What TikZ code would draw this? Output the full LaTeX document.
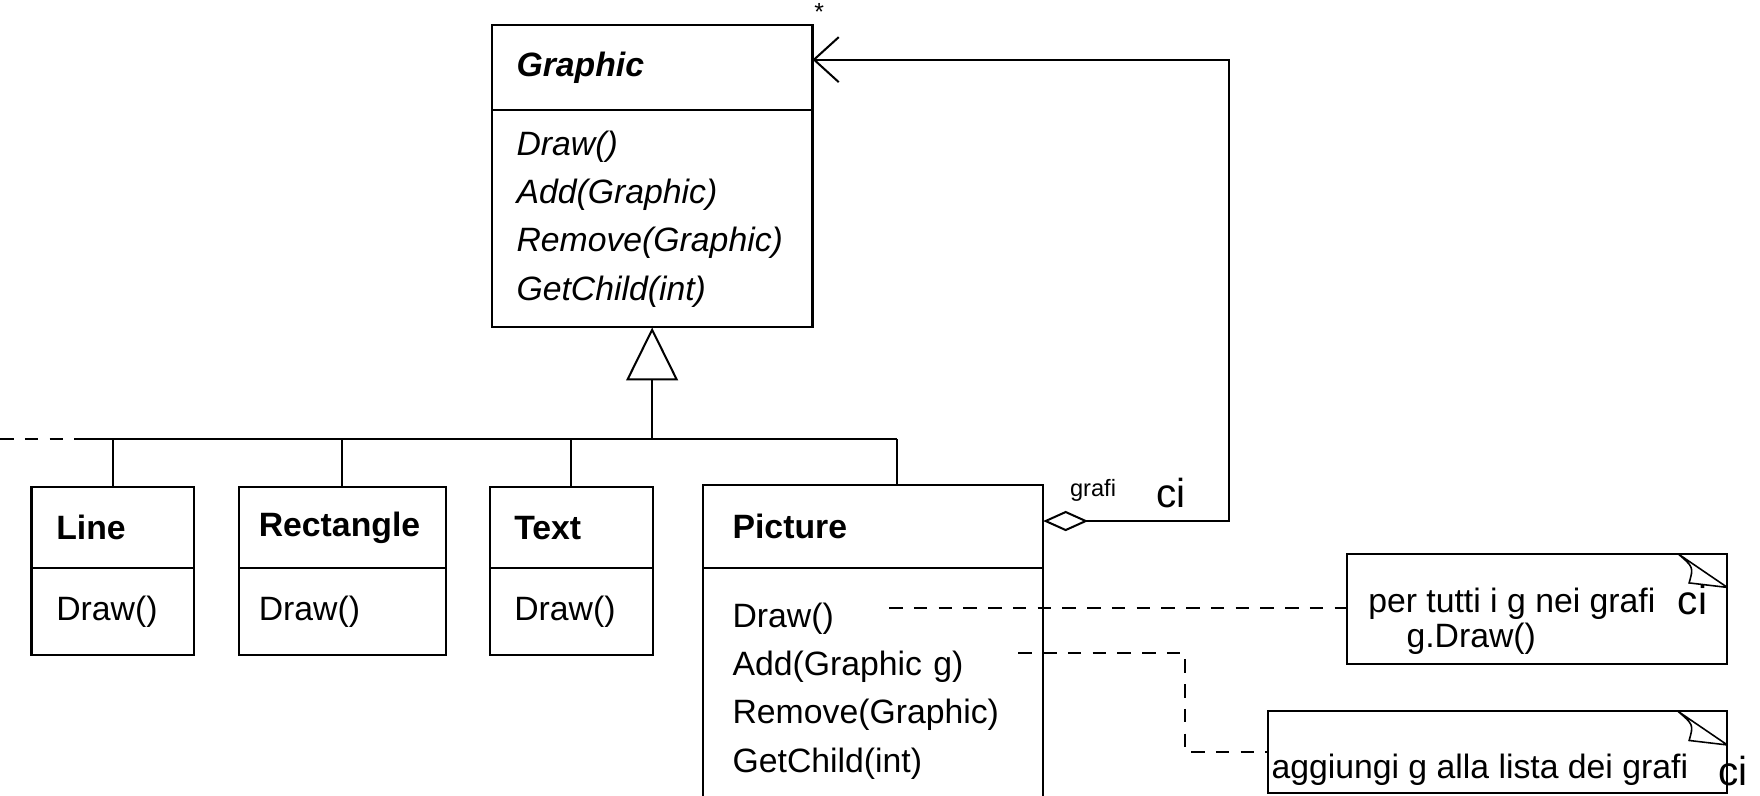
\documentclass[tikz,border=0pt]{standalone}
\usepackage{fontspec}
\setmainfont{Liberation Sans}
\usetikzlibrary{positioning, arrows.meta}

\newcommand{\notefold}[1]{%
\draw[line width=0.7pt] ([xshift=-22pt]#1.north east) -- ([yshift=-15pt]#1.north east)
([xshift=-22pt]#1.north east) .. controls ([xshift=-15pt,yshift=-6pt]#1.north east) .. ([xshift=-17pt,yshift=-13pt]#1.north east) -- ([yshift=-15pt]#1.north east);}

\begin{document}
\begin{tikzpicture}[x=0.5pt, y=-0.5pt, node distance=20pt, line width=0.9pt,
font=\fontsize{15}{21.5}\selectfont,
classhead/.style={draw, text width=#1, inner xsep=11pt, inner ysep=0pt, outer sep=0pt, minimum height=36pt, align=left, font=\fontsize{15}{21.5}\selectfont\bfseries},
classbody/.style={draw, text width=#1, inner xsep=11pt, inner ysep=0pt, outer sep=0pt, minimum height=38.5pt, align=left},
notebox/.style={draw, inner sep=0pt, outer sep=0pt},
notetext/.style={inner sep=0pt, align=left, font=\fontsize{15}{15.5}\selectfont},
cilabel/.style={inner sep=0pt, font=\fontsize{18}{18}\selectfont},
notelink/.style={line width=0.8pt, dash pattern=on 6pt off 5pt}]
\useasboundingbox (0,0) rectangle (1564,707);
\clip (0,0) rectangle (1564,707);

\node[classhead=120.5pt, minimum height=38pt, font=\fontsize{15}{21.5}\selectfont\bfseries\itshape, anchor=north west] (graphic) at (437,22) {Graphic};
\node[classbody=120.5pt, minimum height=96.5pt, below=0pt of graphic, font=\fontsize{15}{21.5}\selectfont\itshape] (graphicops) {Draw()\\Add(Graphic)\\Remove(Graphic)\\GetChild(int)};

\node[classhead=50pt, anchor=north west] (line) at (28,433) {Line};
\node[classbody=50pt, below=0pt of line] (lineops) {Draw()};
\node[classhead=74pt, inner xsep=9pt, right=20pt of line.north east, anchor=north west] (rect) {Rectangle};
\node[classbody=74pt, inner xsep=9pt, below=0pt of rect] (rectops) {Draw()};
\node[classhead=50.5pt, right=19.5pt of rect.north east, anchor=north west] (textcls) {Text};
\node[classbody=50.5pt, below=0pt of textcls] (textops) {Draw()};
\node[classhead=125pt, inner xsep=13pt, minimum height=37pt, right=22.5pt of textcls.north east, anchor=north west, yshift=1pt] (picture) {Picture};
\node[classbody=125pt, inner xsep=13pt, minimum height=109pt, below=0pt of picture] (pictureops) {Draw()\\Add(Graphic g)\\Remove(Graphic)\\GetChild(int)};

\coordinate (busleft) at (0,390);
\coordinate (busdash) at (67,390);
\coordinate (bus) at (graphicops.south |- busleft);
\coordinate (busright) at (797,390);
\draw[notelink] (busleft) -- (busdash);
\draw (busdash) -- (busright);
\draw[-{Triangle[open, length=23.5pt, width=23pt]}] (bus) -- (graphicops.south);
\foreach \c in {line, rect, textcls} \draw (\c.north |- bus) -- (\c.north);
\draw (busright) -- (busright |- picture.north);

\coordinate (aggcorner) at (1092,53);
\draw[{Diamond[open, length=20pt, width=9pt]}-{Straight Barb[length=11pt, width=20pt]}] ([yshift=2.5pt]picture.east) -| (aggcorner) -- ([yshift=3.5pt]graphic.east);
\node[font=\fontsize{11}{11}\selectfont, inner sep=0pt] (mult) at (728,11) {*};
\node[font=\fontsize{10.5}{10.5}\selectfont, inner sep=0pt, anchor=base west] (grafi) at (950,441) {grafi};
\node[cilabel, anchor=base west] (grafici) at (1027,451) {ci};

\node[notebox, minimum width=169pt, minimum height=49pt, anchor=north west] (note1) at (1197,492) {};
\notefold{note1}
\node[notetext, anchor=west] (note1text) at (1215,552) {per tutti i g nei grafi\\\hspace*{17pt}g.Draw()};
\node[cilabel, anchor=base west] (note1ci) at (1490,546) {ci};

\node[notebox, minimum width=204pt, minimum height=36.5pt, anchor=north west] (note2) at (1127,632) {};
\notefold{note2}
\node[notetext, anchor=base west] (note2text) at (1129,692) {aggiungi g alla lista dei grafi};
\node[cilabel, anchor=base west] (note2ci) at (1526,698) {ci};

\coordinate (drawref) at (790,540);
\coordinate (addref) at (905,580);
\coordinate (addkink) at (1053,580);
\draw[notelink] (drawref) -- (drawref -| note1.west);
\draw[notelink] (addref) -- (addkink) |- (note2.west);
\end{tikzpicture}
\end{document}
